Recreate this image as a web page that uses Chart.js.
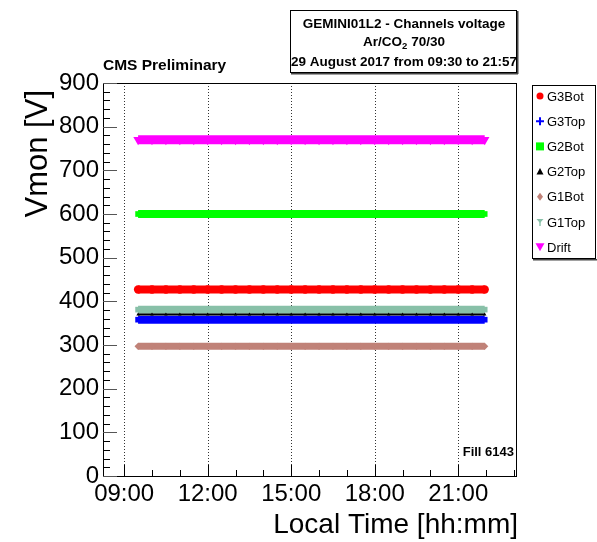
<!DOCTYPE html>
<html lang="en">
<head>
<meta charset="UTF-8">
<title>GEMINI01L2 - Channels voltage</title>
<style>
    body { margin: 0; background: #fff; }
    .chart-box { position: relative; width: 597px; height: 542px; }
</style>
<script src="https://cdn.jsdelivr.net/npm/chart.js@4.4.1/dist/chart.umd.min.js"></script>
</head>
<body>
<div class="chart-box"><canvas id="vmonChart"></canvas></div>
<script>
const times = ['09:30', '10:00', '10:30', '11:00', '11:30', '12:00', '12:30', '13:00', '13:30',
               '14:00', '14:30', '15:00', '15:30', '16:00', '16:30', '17:00', '17:30', '18:00',
               '18:30', '19:00', '19:30', '20:00', '20:30', '21:00', '21:30', '21:57'];
const g3Bot = [427, 427, 427, 427, 427, 427, 427, 427, 427, 427, 427, 427, 427,
               427, 427, 427, 427, 427, 427, 427, 427, 427, 427, 427, 427, 427];
const g3Top = [358, 358, 358, 358, 358, 358, 358, 358, 358, 358, 358, 358, 358,
               358, 358, 358, 358, 358, 358, 358, 358, 358, 358, 358, 358, 358];
const g2Bot = [600, 600, 600, 600, 600, 600, 600, 600, 600, 600, 600, 600, 600,
               600, 600, 600, 600, 600, 600, 600, 600, 600, 600, 600, 600, 600];
const g2Top = [370, 370, 370, 370, 370, 370, 370, 370, 370, 370, 370, 370, 370,
               370, 370, 370, 370, 370, 370, 370, 370, 370, 370, 370, 370, 370];
const g1Bot = [297, 297, 297, 297, 297, 297, 297, 297, 297, 297, 297, 297, 297,
               297, 297, 297, 297, 297, 297, 297, 297, 297, 297, 297, 297, 297];
const g1Top = [381, 381, 381, 381, 381, 381, 381, 381, 381, 381, 381, 381, 381,
               381, 381, 381, 381, 381, 381, 381, 381, 381, 381, 381, 381, 381];
const drift = [770, 770, 770, 770, 770, 770, 770, 770, 770, 770, 770, 770, 770,
               770, 770, 770, 770, 770, 770, 770, 770, 770, 770, 770, 770, 770];

const seriesNames = ['G3Bot', 'G3Top', 'G2Bot', 'G2Top', 'G1Bot', 'G1Top', 'Drift'];
const seriesValues = [g3Bot, g3Top, g2Bot, g2Top, g1Bot, g1Top, drift];
const seriesColors = ['#ff0000', '#0000ff', '#00ff00', '#000000', '#c08278', '#88c0a8', '#ff00ff'];

const xTickLabels = ['09:00', '12:00', '15:00', '18:00', '21:00'];
const xMinorHours = [9, 10, 11, 12, 13, 14, 15, 16, 17, 18, 19, 20, 21, 22, 23];

const FONT = "'Liberation Sans', Arial, sans-serif";

function toHours(t) {
    const [h, m] = t.split(':').map(Number);
    return h + m / 60;
}

// marker style / band thickness for each channel
const styles = [
    { point: 'circle', rot: 0, r: 4.2, band: 8 },
    { point: 'rect', rot: 0, r: 4, band: 8 },
    { point: 'rect', rot: 0, r: 4, band: 8 },
    { point: 'triangle', rot: 0, r: 2, band: 2 },
    { point: 'rectRot', rot: 0, r: 3.6, band: 7 },
    { point: 'rect', rot: 0, r: 4, band: 8 },
    { point: 'triangle', rot: 180, r: 5.5, band: 9 }
];

const datasets = seriesNames.map((name, i) => ({
    label: name,
    data: times.map((t, k) => ({ x: toHours(t), y: seriesValues[i][k] })),
    borderColor: seriesColors[i],
    backgroundColor: seriesColors[i],
    borderWidth: styles[i].band,
    borderCapStyle: 'butt',
    pointStyle: styles[i].point,
    rotation: styles[i].rot,
    pointRadius: styles[i].r,
    pointBorderWidth: 0,
    // black G2Top drawn on top so its thin line shows between G1Top and G3Top
    order: name === 'G2Top' ? 0 : 1
}));

function drawMarker(ctx, kind, x, y, color) {
    ctx.fillStyle = color;
    ctx.strokeStyle = color;
    ctx.beginPath();
    if (kind === 'G3Bot') {
        ctx.arc(x, y, 3.5, 0, Math.PI * 2);
        ctx.fill();
    } else if (kind === 'G3Top') {
        ctx.lineWidth = 2;
        ctx.moveTo(x - 4, y); ctx.lineTo(x + 4, y);
        ctx.moveTo(x, y - 4); ctx.lineTo(x, y + 4);
        ctx.stroke();
    } else if (kind === 'G2Bot') {
        ctx.fillRect(x - 4, y - 4, 8, 8);
    } else if (kind === 'G2Top') {
        ctx.moveTo(x, y - 3.5); ctx.lineTo(x + 3.5, y + 3); ctx.lineTo(x - 3.5, y + 3);
        ctx.closePath(); ctx.fill();
    } else if (kind === 'G1Bot') {
        ctx.moveTo(x, y - 4); ctx.lineTo(x + 3, y); ctx.lineTo(x, y + 4); ctx.lineTo(x - 3, y);
        ctx.closePath(); ctx.fill();
    } else if (kind === 'G1Top') {
        ctx.moveTo(x - 3.5, y - 3); ctx.lineTo(x + 3.5, y - 3); ctx.lineTo(x, y + 1);
        ctx.closePath(); ctx.fill();
        ctx.fillRect(x - 0.7, y, 1.4, 4);
    } else {
        ctx.moveTo(x - 4.5, y - 4); ctx.lineTo(x + 4.5, y - 4); ctx.lineTo(x, y + 4);
        ctx.closePath(); ctx.fill();
    }
}

const rootStyle = {
    id: 'rootStyle',
    beforeDatasetsDraw(chart) {
        const { ctx, chartArea: a, scales: { x } } = chart;
        ctx.save();
        ctx.strokeStyle = '#333';
        ctx.lineWidth = 1;
        ctx.setLineDash([1, 2]);
        xTickLabels.forEach(l => {
            const px = Math.round(x.getPixelForValue(toHours(l))) + 0.5;
            ctx.beginPath();
            ctx.moveTo(px, a.top);
            ctx.lineTo(px, a.bottom);
            ctx.stroke();
        });
        ctx.restore();
    },
    afterDatasetsDraw(chart) {
        const { ctx, chartArea: a, scales: { x, y } } = chart;
        ctx.save();
        ctx.strokeStyle = '#000';
        ctx.lineWidth = 1;
        ctx.strokeRect(a.left + 0.5, a.top + 0.5, a.right - a.left - 1, a.bottom - a.top);
        // y ticks, drawn inside the frame
        y.ticks.forEach(t => {
            const py = Math.round(y.getPixelForValue(t.value)) + 0.5;
            const len = t.value % 100 === 0 ? 14 : 7;
            ctx.strokeStyle = t.value % 100 === 0 ? '#555' : '#000';
            ctx.beginPath();
            ctx.moveTo(a.left, py);
            ctx.lineTo(a.left + len, py);
            ctx.stroke();
        });
        // x ticks
        const majors = xTickLabels.map(toHours);
        ctx.strokeStyle = '#000';
        x.ticks.forEach(t => {
            const px = Math.round(x.getPixelForValue(t.value)) + 0.5;
            const len = majors.includes(t.value) ? 11 : 6;
            ctx.beginPath();
            ctx.moveTo(px, a.bottom);
            ctx.lineTo(px, a.bottom - len);
            ctx.stroke();
        });
        ctx.restore();
    },
    afterDraw(chart) {
        const { ctx, chartArea: a } = chart;
        ctx.save();
        ctx.fillStyle = '#000';

        // axis titles
        ctx.font = '28px ' + FONT;
        ctx.textAlign = 'right';
        ctx.textBaseline = 'alphabetic';
        ctx.fillText('Local Time [hh:mm]', a.right + 1, 533);

        ctx.save();
        ctx.translate(47, 90);
        ctx.rotate(-Math.PI / 2);
        ctx.font = '31px ' + FONT;
        ctx.textAlign = 'right';
        ctx.fillText('Vmon [V]', 0, 0);
        ctx.restore();

        // labels
        ctx.textAlign = 'left';
        ctx.font = 'bold 15.5px ' + FONT;
        ctx.fillText('CMS Preliminary', 103, 70);
        ctx.textAlign = 'right';
        ctx.font = 'bold 13px ' + FONT;
        ctx.fillText('Fill 6143', a.right - 3, 456);

        // title box
        ctx.fillStyle = '#fff';
        ctx.fillRect(290, 10, 227, 63);
        ctx.strokeStyle = '#000';
        ctx.lineWidth = 1;
        ctx.strokeRect(290.5, 10.5, 226, 62);
        ctx.fillStyle = '#444';
        ctx.fillRect(517, 11, 1.5, 63);
        ctx.fillRect(291, 73, 227, 1.5);
        ctx.fillStyle = '#000';
        ctx.textAlign = 'center';
        ctx.font = 'bold 13.5px ' + FONT;
        ctx.fillText('GEMINI01L2 - Channels voltage', 404, 28);
        ctx.fillText('29 August 2017 from 09:30 to 21:57', 404, 66);
        // Ar/CO2 line with subscript
        const p1 = 'Ar/CO', p3 = ' 70/30';
        const w1 = ctx.measureText(p1).width, w3 = ctx.measureText(p3).width;
        ctx.font = 'bold 9.5px ' + FONT;
        const w2 = ctx.measureText('2').width;
        let sx = 404 - (w1 + w2 + w3) / 2;
        ctx.textAlign = 'left';
        ctx.font = 'bold 13.5px ' + FONT;
        ctx.fillText(p1, sx, 46);
        ctx.font = 'bold 9.5px ' + FONT;
        ctx.fillText('2', sx + w1, 49);
        ctx.font = 'bold 13.5px ' + FONT;
        ctx.fillText(p3, sx + w1 + w2, 46);

        // legend box
        ctx.fillStyle = '#fff';
        ctx.fillRect(532, 85, 64, 174);
        ctx.strokeRect(532.5, 85.5, 63, 173);
        ctx.fillStyle = '#444';
        ctx.fillRect(533, 259, 64, 1.5);
        ctx.font = '13px ' + FONT;
        ctx.textBaseline = 'middle';
        seriesNames.forEach((name, i) => {
            const ly = 96 + i * 25.2;
            drawMarker(ctx, name, 540, ly, seriesColors[i]);
            ctx.fillStyle = '#000';
            ctx.textAlign = 'left';
            ctx.fillText(name, 547, ly + 1);
        });
        ctx.restore();
    }
};

new Chart(document.getElementById('vmonChart'), {
    type: 'line',
    data: { datasets: datasets },
    options: {
        responsive: true,
        maintainAspectRatio: false,
        animation: false,
        layout: { padding: { top: 83, right: 80, left: 0, bottom: 0 } },
        plugins: { legend: { display: false }, tooltip: { enabled: false } },
        scales: {
            x: {
                type: 'linear',
                min: 8.24,
                max: 23.11,
                afterBuildTicks: scale => { scale.ticks = xMinorHours.map(h => ({ value: h })); },
                afterFit: scale => { scale.height = 66; },
                grid: { display: false, drawTicks: false },
                border: { display: false },
                ticks: {
                    autoSkip: false,
                    maxRotation: 0,
                    padding: 4,
                    color: '#000',
                    font: { size: 24, family: FONT },
                    callback: v => {
                        const l = xTickLabels.find(s => toHours(s) === v);
                        return l || '';
                    }
                }
            },
            y: {
                min: 0,
                max: 900,
                afterFit: scale => { scale.width = 103; },
                grid: { display: false, drawTicks: false },
                border: { display: false },
                ticks: {
                    stepSize: 20,
                    autoSkip: false,
                    padding: 4,
                    color: '#000',
                    font: { size: 24, family: FONT },
                    callback: v => (v % 100 === 0 ? v : '')
                }
            }
        }
    },
    plugins: [rootStyle]
});
</script>
</body>
</html>
